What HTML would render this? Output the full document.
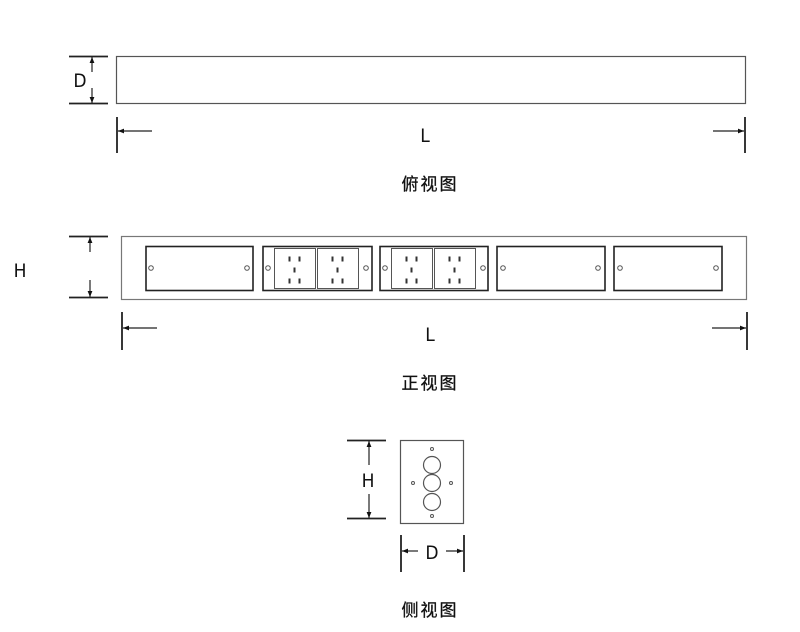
<!DOCTYPE html>
<html><head><meta charset="utf-8"><style>
html,body{margin:0;padding:0;background:#fff;}
svg{display:block;}
text{font-family:"Liberation Sans","Noto Sans CJK SC",sans-serif;fill:#111;}
.lt{font-family:"DejaVu Sans Condensed","Liberation Sans Narrow","Liberation Sans",sans-serif;}
</style></head><body>
<svg width="800" height="632" viewBox="0 0 800 632" xmlns="http://www.w3.org/2000/svg">
<defs>
<marker id="a" viewBox="0 0 10 10" refX="10" refY="5" markerWidth="9" markerHeight="6" orient="auto-start-reverse" markerUnits="userSpaceOnUse"><path d="M0,1 L10,5 L0,9z" fill="#111"/></marker>
<g id="sock">
<rect x="0" y="0" width="41" height="40" fill="#fff" stroke="#555" stroke-width="1"/>
<rect x="14" y="8" width="2" height="5" fill="#333"/><rect x="24" y="8" width="2" height="5" fill="#333"/>
<rect x="19" y="19" width="2" height="5" fill="#333"/>
<rect x="14" y="30" width="2" height="5" fill="#333"/><rect x="24" y="30" width="2" height="5" fill="#333"/>
</g>
<g id="scr"><circle r="2.3" fill="#fff" stroke="#555" stroke-width="1"/></g>
</defs>
<g stroke="#222" fill="none" stroke-width="1.2">
<rect x="116.5" y="56.5" width="629" height="47" stroke="#555"/>
<line x1="69" y1="56.5" x2="108" y2="56.5" stroke-width="1.8"/>
<line x1="69" y1="103.5" x2="108" y2="103.5" stroke-width="1.8"/>
<line x1="92" y1="72" x2="92" y2="57" marker-end="url(#a)"/>
<line x1="92" y1="88" x2="92" y2="103" marker-end="url(#a)"/>
<line x1="117" y1="117" x2="117" y2="153" stroke-width="1.8"/>
<line x1="745" y1="117" x2="745" y2="153" stroke-width="1.8"/>
<line x1="152" y1="131" x2="118" y2="131" marker-end="url(#a)"/>
<line x1="713" y1="131" x2="744" y2="131" marker-end="url(#a)"/>
<rect x="121.5" y="236.5" width="625" height="63" stroke="#777"/>
<line x1="69" y1="236.5" x2="108" y2="236.5" stroke-width="1.8"/>
<line x1="69" y1="297.5" x2="108" y2="297.5" stroke-width="1.8"/>
<line x1="90" y1="252" x2="90" y2="237" marker-end="url(#a)"/>
<line x1="90" y1="280" x2="90" y2="297" marker-end="url(#a)"/>
<rect x="146" y="246.5" width="107" height="44" stroke-width="1.6"/>
<rect x="263" y="246.5" width="109" height="44" stroke-width="1.6"/>
<rect x="380" y="246.5" width="108" height="44" stroke-width="1.6"/>
<rect x="497" y="246.5" width="108" height="44" stroke-width="1.6"/>
<rect x="614" y="246.5" width="108" height="44" stroke-width="1.6"/>
<line x1="122" y1="312" x2="122" y2="350" stroke-width="1.8"/>
<line x1="747" y1="312" x2="747" y2="350" stroke-width="1.8"/>
<line x1="157" y1="328" x2="123" y2="328" marker-end="url(#a)"/>
<line x1="712" y1="328" x2="746" y2="328" marker-end="url(#a)"/>
<rect x="400.5" y="440.5" width="63" height="83" stroke="#555"/>
<circle cx="432" cy="465" r="8.5" stroke="#555"/>
<circle cx="432" cy="483" r="8.5" stroke="#555"/>
<circle cx="432" cy="502" r="8.5" stroke="#555"/>
<line x1="347" y1="440.5" x2="386" y2="440.5" stroke-width="1.8"/>
<line x1="347" y1="518.5" x2="386" y2="518.5" stroke-width="1.8"/>
<line x1="369" y1="465" x2="369" y2="441" marker-end="url(#a)"/>
<line x1="369" y1="494" x2="369" y2="518" marker-end="url(#a)"/>
<line x1="401" y1="535" x2="401" y2="572" stroke-width="1.8"/>
<line x1="464" y1="535" x2="464" y2="572" stroke-width="1.8"/>
<line x1="418" y1="551" x2="402" y2="551" marker-end="url(#a)"/>
<line x1="446" y1="551" x2="463" y2="551" marker-end="url(#a)"/>
</g>
<g>
<use href="#sock" x="274.5" y="248.5"/><use href="#sock" x="317.5" y="248.5"/>
<use href="#sock" x="391.5" y="248.5"/><use href="#sock" x="434.5" y="248.5"/>
<use href="#scr" x="151" y="268"/><use href="#scr" x="247" y="268"/>
<use href="#scr" x="268" y="268"/><use href="#scr" x="366" y="268"/>
<use href="#scr" x="385" y="268"/><use href="#scr" x="483" y="268"/>
<use href="#scr" x="503" y="268"/><use href="#scr" x="598" y="268"/>
<use href="#scr" x="620" y="268"/><use href="#scr" x="716" y="268"/>
<circle cx="432" cy="449" r="1.5" fill="#fff" stroke="#555"/>
<circle cx="432" cy="516" r="1.5" fill="#fff" stroke="#555"/>
<circle cx="413" cy="483" r="1.5" fill="#fff" stroke="#555"/>
<circle cx="451" cy="483" r="1.5" fill="#fff" stroke="#555"/>
</g>
<g font-size="19" class="lt">
<text class="lt" x="80" y="87" text-anchor="middle">D</text>
<text class="lt" x="425" y="142" text-anchor="middle">L</text>
<text class="lt" x="20" y="277" text-anchor="middle">H</text>
<text class="lt" x="430" y="341" text-anchor="middle">L</text>
<text class="lt" x="368" y="487" text-anchor="middle">H</text>
<text class="lt" x="432" y="559" text-anchor="middle">D</text>
</g>
<g font-size="17" letter-spacing="2">
<text x="430" y="190" text-anchor="middle" stroke="#111" stroke-width="0.3">俯视图</text>
<text x="430" y="389" text-anchor="middle" stroke="#111" stroke-width="0.3">正视图</text>
<text x="430" y="616" text-anchor="middle" stroke="#111" stroke-width="0.3">侧视图</text>
</g>
</svg>
</body></html>
